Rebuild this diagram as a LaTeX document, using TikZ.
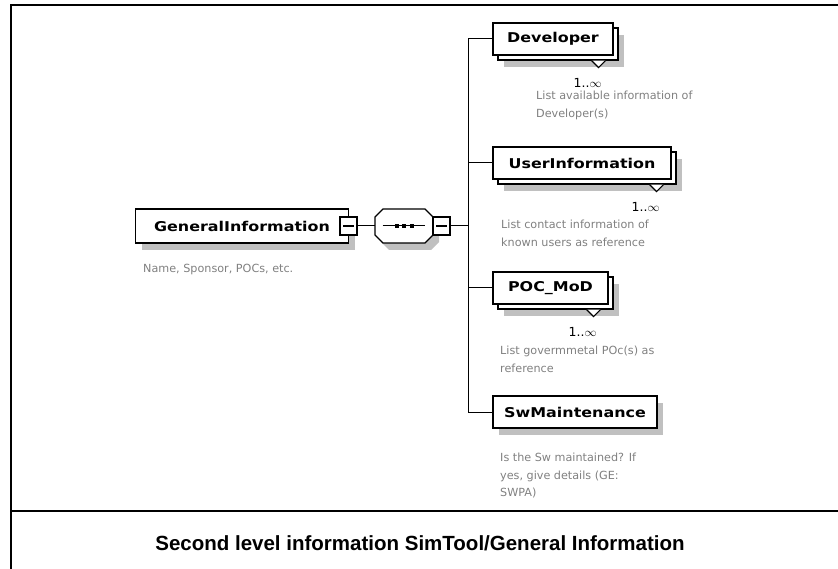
\documentclass[tikz,border=0pt]{standalone}
\usepackage{fontspec}
\setmainfont{DejaVu Sans}
\newfontfamily\boxfamily[FakeStretch=1.18]{DejaVu Sans}
\newfontfamily\capfamily{Liberation Sans}
\usetikzlibrary{shadows}

\definecolor{shadowgray}{RGB}{192,192,192}
\definecolor{notegray}{RGB}{128,128,128}

\tikzset{
  outline/.style={line width=1.1pt},
  frameline/.style={line width=2pt},
  elembox/.style={draw, outline, fill=white, inner sep=0pt, minimum height=32pt,
    font=\boxfamily\bfseries\fontsize{13.5}{16}\selectfont},
  flatbox/.style={elembox,
    general shadow={shadow xshift=6pt, shadow yshift=-7pt, fill=shadowgray}},
  stackbox/.style={elembox,
    general shadow={shadow xshift=11pt, shadow yshift=-12pt, fill=shadowgray},
    general shadow={shadow xshift=5pt, shadow yshift=-5pt, fill=white, draw, outline}},
  togglebox/.style={draw, outline, fill=white, inner sep=0pt,
    minimum width=17pt, minimum height=18pt,
    path picture={\draw[outline] ([xshift=3pt]path picture bounding box.west)
      -- ([xshift=-3pt]path picture bounding box.east);}},
  note/.style={anchor=north west, inner sep=0pt, align=left, text=notegray,
    font=\fontsize{11.2}{17.5}\selectfont},
  card/.style={inner sep=0pt, font=\fontsize{12.5}{14}\selectfont},
  caption/.style={inner sep=0pt, font=\capfamily\bfseries\fontsize{20.5}{24}\selectfont},
  link/.style={line width=1pt},
}

\begin{document}
\begin{tikzpicture}[x=1pt, y=-1pt]
  \useasboundingbox (0,0) rectangle (838,569);

  % frame
  \draw[frameline] (11,569) -- (11,5) -- (838,5);
  \draw[frameline] (11,511) -- (838,511);

  % root element
  \node[flatbox, minimum width=213pt, minimum height=34pt] (gi) at (242,226) {GeneralInformation};
  \node[togglebox] (git) at (348.5,226) {};
  \node[note] (ginote) at (143,264) {Name, Sponsor, POCs, etc.};

  % sequence compositor
  \node[minimum width=58pt, minimum height=34pt, inner sep=0pt] (seq) at (404,226) {};
  \begin{scope}[shift={(seq.center)}]
    \fill[shadowgray] (-15,-10) -- (27,-10) -- (35,-2) -- (35,16) -- (27,24)
      -- (-15,24) -- (-23,16) -- (-23,-2) -- cycle;
    \draw[outline, fill=white] (-21,-17) -- (21,-17) -- (29,-9) -- (29,9) -- (21,17)
      -- (-21,17) -- (-29,9) -- (-29,-9) -- cycle;
    \draw[link] (-21.5,0) -- (20.5,0);
    \foreach \dx in {-7.5,0,7.5}
      \fill (\dx-2,-2) rectangle (\dx+2,2);
  \end{scope}
  \node[togglebox] (seqt) at (441.5,226) {};
  \coordinate (trunk) at (468,226);

  % child elements
  \node[stackbox, minimum width=120pt] (dev) at (553,39) {Developer};
  \node[stackbox, minimum width=178pt] (usr) at (582,163) {UserInformation};
  \node[stackbox, minimum width=115pt] (poc) at (550.5,288) {POC\_MoD};
  \node[flatbox, minimum width=164pt] (swm) at (575,412) {SwMaintenance};

  % repetition markers and cardinalities
  \foreach \n in {dev,usr,poc} {
    \draw[outline, fill=white] ([xshift=-22pt, yshift=-5pt]\n.south east)
      -- ++(7,7) -- ++(7,-7);
    \node[card] at ([xshift=-26pt, yshift=-27pt]\n.south east) {1..$\infty$};
  }

  % annotations
  \node[note] (devnote) at (536,91) {List available information of\\Developer(s)};
  \node[note] (usrnote) at (501,220) {List contact information of\\known users as reference};
  \node[note] (pocnote) at (500,346) {List govermmetal POc(s) as\\reference};
  \node[note] (swmnote) at (500,453) {Is the Sw maintained? If\\yes, give details (GE:\\SWPA)};

  % connectors
  \draw[link] (git.east) -- (seq.west);
  \draw[link] (seqt.east) -- (trunk);
  \draw[link] (trunk) |- (dev.west);
  \draw[link] (trunk) |- (usr.west);
  \draw[link] (trunk) |- (poc.west);
  \draw[link] (trunk) |- (swm.west);

  % caption
  \node[caption] (cap) at (420,543) {Second level information SimTool/General Information};
\end{tikzpicture}
\end{document}
